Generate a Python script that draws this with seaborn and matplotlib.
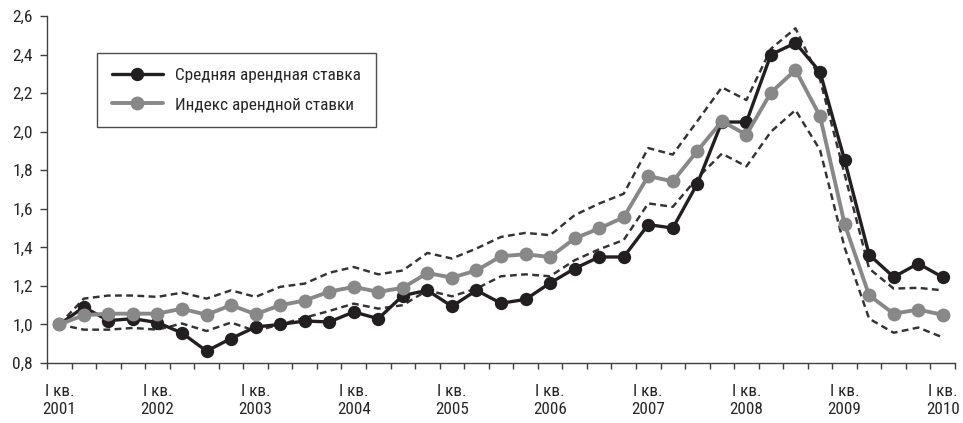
import numpy as np
import pandas as pd
import matplotlib
matplotlib.use("Agg")
import matplotlib.pyplot as plt
from matplotlib import font_manager
from matplotlib.ticker import FuncFormatter, FixedLocator
import seaborn as sns

# quarters I 2001 .. I 2010
quarters = [f"{y} Q{q}" for y in range(2001, 2011) for q in range(1, 5)][:37]
years = [str(y) for y in range(2001, 2011)]

mean_rate = [1.00, 1.09, 1.02, 1.03, 1.01, 0.956, 0.862, 0.927, 0.987, 1.00,
             1.018, 1.013, 1.065, 1.03, 1.15, 1.177, 1.094, 1.177, 1.11, 1.13,
             1.215, 1.29, 1.35, 1.35, 1.518, 1.50, 1.73, 2.05, 2.05, 2.40,
             2.46, 2.31, 1.853, 1.362, 1.246, 1.316, 1.245]
rate_index = [1.00, 1.048, 1.056, 1.056, 1.056, 1.082, 1.05, 1.10, 1.053, 1.10,
              1.124, 1.17, 1.195, 1.169, 1.19, 1.267, 1.243, 1.28, 1.354, 1.364,
              1.35, 1.446, 1.498, 1.556, 1.77, 1.742, 1.90, 2.054, 1.984, 2.203,
              2.32, 2.08, 1.522, 1.151, 1.056, 1.077, 1.05]
upper_band = [1.00, 1.134, 1.15, 1.15, 1.143, 1.165, 1.134, 1.177, 1.143, 1.195,
              1.212, 1.268, 1.298, 1.26, 1.28, 1.371, 1.342, 1.394, 1.454, 1.475,
              1.463, 1.567, 1.627, 1.678, 1.915, 1.881, 2.055, 2.23, 2.164, 2.43,
              2.536, 2.27, 1.78, 1.29, 1.186, 1.19, 1.177]
lower_band = [1.00, 0.973, 0.973, 0.982, 0.973, 1.005, 0.966, 1.01, 0.966, 1.0,
              1.035, 1.07, 1.108, 1.082, 1.10, 1.177, 1.146, 1.186, 1.25, 1.26,
              1.25, 1.333, 1.39, 1.438, 1.628, 1.61, 1.76, 1.886, 1.82, 2.0,
              2.112, 1.905, 1.40, 1.03, 0.957, 0.984, 0.933]

labels = ["Средняя арендная ставка", "Индекс арендной ставки"]

df = pd.DataFrame({"quarter": quarters, "mean": mean_rate, "index": rate_index,
                   "upper": upper_band, "lower": lower_band})
df["pos"] = np.arange(len(df))

sns.set_style("ticks")
installed = {f.name for f in font_manager.fontManager.ttflist}
narrow = [n for n in ["Roboto Condensed", "Liberation Sans Narrow"] if n in installed]
if narrow:
    plt.rcParams["font.family"] = [narrow[0], "DejaVu Sans"]
    fs_x, fs_y, fs_leg = 12.3, 12.5, 12.4
else:
    plt.rcParams["font.family"] = ["Roboto", "DejaVu Sans"]
    fs_x, fs_y, fs_leg = 11, 11.2, 10.8

fig = plt.figure(figsize=(9.63, 4.23), dpi=100)
ax = fig.add_axes([0.0488, 0.1418, 0.9429, 0.8204])

dash = (0, (2.8, 1.8))
for col in ["upper", "lower"]:
    sns.lineplot(data=df, x="pos", y=col, ax=ax, color="#333333",
                 linewidth=1.75, linestyle=dash, legend=False, zorder=2)

sns.lineplot(data=df, x="pos", y="mean", ax=ax, color="#231f20",
             linewidth=2.4, marker="o", markersize=9.6, markeredgewidth=0,
             label=labels[0], zorder=3)
sns.lineplot(data=df, x="pos", y="index", ax=ax, color="#888888",
             linewidth=2.8, marker="o", markersize=10, markeredgewidth=0,
             label=labels[1], zorder=4)

ax.set_xlim(-0.5, len(df) - 0.5)
ax.set_ylim(0.8, 2.6)
ax.set_yticks(np.arange(0.8, 2.61, 0.2))
ax.yaxis.set_major_formatter(FuncFormatter(lambda v, p: f"{v:.1f}".replace(".", ",")))

# year labels on first quarter, boundary ticks between quarters
ax.set_xticks(np.arange(0, len(df), 4))
ax.set_xticklabels([f"I кв.\n{y}" for y in years])
ax.xaxis.set_minor_locator(FixedLocator(np.arange(-0.5, len(df), 1)))
ax.tick_params(axis="x", which="major", length=0, pad=15, labelsize=fs_x)
ax.tick_params(axis="x", which="minor", length=4.5, width=1, color="#404040")
ax.tick_params(axis="y", length=5, width=1, color="#404040", pad=5, labelsize=fs_y)
for t in ax.get_xticklabels():
    t.set_linespacing(1.3)

ax.set_xlabel("")
ax.set_ylabel("")
sns.despine(ax=ax)
for s in ["left", "bottom"]:
    ax.spines[s].set_color("#404040")
    ax.spines[s].set_linewidth(1.0)

handles, lbls = ax.get_legend_handles_labels()
leg = ax.legend(handles, lbls, loc="upper left", bbox_to_anchor=(0.055, 0.893),
                borderaxespad=0, frameon=True, fancybox=False, fontsize=fs_leg,
                handlelength=3.0, handletextpad=0.7, labelspacing=0.85,
                borderpad=0.85)
leg.get_frame().set_edgecolor("#231f20")
leg.get_frame().set_linewidth(1.0)

plt.savefig("out.png", dpi=100)
